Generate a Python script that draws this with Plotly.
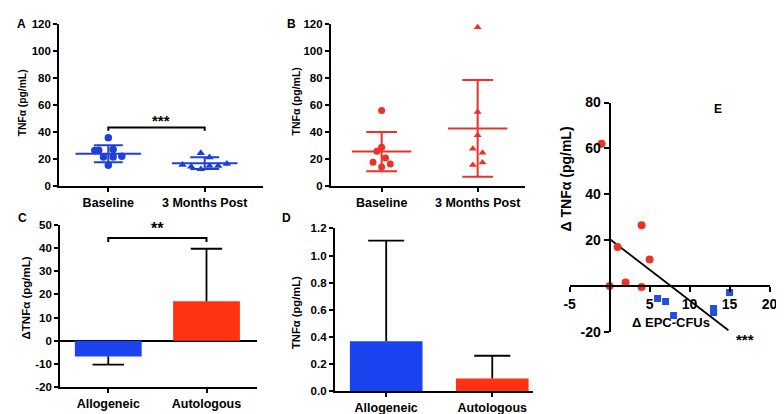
import plotly.graph_objects as go

# --- data ---
cats = ["Baseline", "3 Months Post"]
bar_cats = ["Allogeneic", "Autologous"]

# panel A (allogeneic, blue)
a_base = [35.7, 26.3, 26.5, 27.0, 21.5, 21.5, 22.0, 15.5]
a_post = [24.4, 21.3, 15.8, 14.4, 12.5, 14.9, 14.9, 16.5]
a_mean = [24.0, 17.0]
a_sd = [6.3, 4.4]

# panel B (autologous, red)
b_base = [55.8, 28.5, 25.6, 20.6, 17.4, 16.1, 14.0]
b_post = [117.4, 54.6, 37.5, 27.5, 24.5, 15.4, 17.3]
b_mean = [25.4, 42.5]
b_sd = [14.5, 35.8]

# panel C: change in TNFa
c_mean = [-6.8, 17.0]
c_err = [3.5, 22.7]

# panel D
d_mean = [0.367, 0.092]
d_err = [0.743, 0.168]

# panel E: correlation
e_red_x = [-1, 4, 1, 5, 2, 0, 4]
e_red_y = [62, 26.5, 17, 11.5, 1.5, 0, -0.5]
e_blue_x = [6, 7, 8, 13, 13, 15]
e_blue_y = [-5.5, -6.8, -12.9, -9.8, -11.6, -2.9]
fit_x = [0, 14.85]
fit_y = [20.5, -19.3]

c_ticks = [-20, -10, 0, 10, 20, 30, 40, 50]
e_xticks = [-5, 5, 10, 15, 20]
e_yticks = [-20, 20, 40, 60, 80]

# jitter used for the scatter dot plots (layout only)
a_base_jit = [0, -0.14, -0.10, 0.05, -0.05, 0.05, 0.14, 0]
a_post_jit = [-0.04, 0.05, -0.23, -0.14, -0.04, 0.05, 0.14, 0.23]
b_base_jit = [0, 0, -0.05, 0.04, -0.09, 0.09, 0]
b_post_jit = [0, 0, 0, -0.05, 0.05, -0.05, 0.05]

BLUE = "#1e3fd8"
RED = "#e8322a"
BAR_BLUE = "#1a44f0"
BAR_RED = "#ff3311"
FONT = "Arial"


def mean_sd_path(means, sds, half_mean, half_cap):
    xs, ys = [], []
    for i, (m, s) in enumerate(zip(means, sds)):
        xs += [i - half_mean, i + half_mean, None]
        ys += [m, m, None]
        xs += [i, i, None]
        ys += [m - s, m + s, None]
        for v in (m - s, m + s):
            xs += [i - half_cap, i + half_cap, None]
            ys += [v, v, None]
    return xs, ys


def bar_err_path(means, errs, half_cap):
    xs, ys = [], []
    for i, (m, e) in enumerate(zip(means, errs)):
        end = m + e if m >= 0 else m - e
        xs += [i, i, None, i - half_cap, i + half_cap, None]
        ys += [m, end, None, end, end, None]
    return xs, ys


fig = go.Figure()

# A
fig.add_trace(go.Scatter(x=[j for j in a_base_jit], y=a_base, mode="markers",
                         marker=dict(symbol="circle", size=7.5, color=BLUE),
                         xaxis="x", yaxis="y"))
fig.add_trace(go.Scatter(x=[1 + j for j in a_post_jit], y=a_post, mode="markers",
                         marker=dict(symbol="triangle-up", size=7.5, color=BLUE),
                         xaxis="x", yaxis="y"))
xs, ys = mean_sd_path(a_mean, a_sd, 0.34, 0.15)
fig.add_trace(go.Scatter(x=xs, y=ys, mode="lines", line=dict(color=BLUE, width=2),
                         xaxis="x", yaxis="y"))

# B
fig.add_trace(go.Scatter(x=[j for j in b_base_jit], y=b_base, mode="markers",
                         marker=dict(symbol="circle", size=7, color=RED),
                         xaxis="x2", yaxis="y2"))
fig.add_trace(go.Scatter(x=[1 + j for j in b_post_jit], y=b_post, mode="markers",
                         marker=dict(symbol="triangle-up", size=7, color=RED),
                         xaxis="x2", yaxis="y2"))
xs, ys = mean_sd_path(b_mean, b_sd, 0.31, 0.16)
fig.add_trace(go.Scatter(x=xs, y=ys, mode="lines", line=dict(color=RED, width=2),
                         xaxis="x2", yaxis="y2"))

# C
xs, ys = bar_err_path(c_mean, c_err, 0.16)
fig.add_trace(go.Scatter(x=xs, y=ys, mode="lines", line=dict(color="black", width=1.8),
                         xaxis="x3", yaxis="y3"))
fig.add_trace(go.Bar(x=[0, 1], y=c_mean, width=0.68, marker=dict(color=[BAR_BLUE, BAR_RED], line=dict(width=0)),
                     xaxis="x3", yaxis="y3"))

# D
xs, ys = bar_err_path(d_mean, d_err, 0.17)
fig.add_trace(go.Scatter(x=xs, y=ys, mode="lines", line=dict(color="black", width=1.8),
                         xaxis="x4", yaxis="y4"))
fig.add_trace(go.Bar(x=[0, 1], y=d_mean, width=0.685, marker=dict(color=[BAR_BLUE, BAR_RED], line=dict(width=0)),
                     xaxis="x4", yaxis="y4"))

# E
fig.add_trace(go.Scatter(x=fit_x, y=fit_y, mode="lines", line=dict(color="black", width=1.8),
                         xaxis="x5", yaxis="y5"))
fig.add_trace(go.Scatter(x=e_red_x, y=e_red_y, mode="markers",
                         marker=dict(symbol="circle", size=8, color=RED),
                         xaxis="x5", yaxis="y5"))
fig.add_trace(go.Scatter(x=e_blue_x, y=e_blue_y, mode="markers",
                         marker=dict(symbol="square", size=7, color="#2050e0"),
                         xaxis="x5", yaxis="y5"))

tickfont_y = dict(family=FONT, size=11.5, color="black", weight="bold")
tickfont_x = dict(family=FONT, size=12.5, color="black", weight="bold")
tickfont_e = dict(family=FONT, size=14, color="black", weight="bold")


def cat_x(domain, rng, labels, anchor):
    return dict(domain=domain, range=rng, anchor=anchor, tickvals=[0, 1], ticktext=labels,
                showline=True, linecolor="black", linewidth=2, ticks="outside",
                ticklen=4, tickwidth=1.5, tickcolor="black", showgrid=False,
                zeroline=False, tickfont=tickfont_x, fixedrange=True)


def val_y(domain, rng, dtick, anchor, fmt=None, zl=False, vals=None):
    d = dict(domain=domain, range=rng, anchor=anchor, dtick=dtick, tick0=0,
             showline=True, linecolor="black", linewidth=2, ticks="outside",
             ticklen=4, tickwidth=1.5, tickcolor="black", showgrid=False,
             zeroline=zl, zerolinecolor="black", zerolinewidth=2, tickfont=tickfont_y)
    if fmt:
        d["tickformat"] = fmt
    if vals:
        d["tickvals"] = vals
        d["ticktext"] = [str(v) for v in vals]
    return d


annots = []


def txt(x, y, s, size, angle=0, bold=True, xref="paper", yref="paper"):
    annots.append(dict(x=x, y=y, xref=xref, yref=yref, text=s, showarrow=False,
                       textangle=angle, xanchor="center", yanchor="middle",
                       font=dict(family=FONT, size=size, color="black",
                                 weight="bold" if bold else "normal")))


W, H = 784, 414
px = lambda v: v / W
py = lambda v: 1 - v / H

# panel letters
txt(px(8), py(8), "A", 12)
txt(px(283), py(8), "B", 12)
txt(px(9), py(210), "C", 12)
txt(px(277), py(210), "D", 12)
txt(px(717), py(97), "E", 12)

# y axis titles
txt(px(9), py(90), "TNFα (pg/mL)", 10.3, angle=-90)
txt(px(287), py(89), "TNFα (pg/mL)", 10.5, angle=-90)
txt(px(12), py(293), "ΔTNFα (pg/mL)", 11.5, angle=-90)
txt(px(287), py(308), "TNFα (pg/mL)", 11.2, angle=-90)
txt(px(563), py(169), "Δ TNFα (pg/mL)", 14, angle=-90)
txt(px(669), py(319), "Δ EPC-CFUs", 13)

# significance stars
txt(0.55, 48.5, "***", 15, xref="x", yref="y")
txt(0.5, 48.5, "**", 16, xref="x3", yref="y3")
txt(px(744), py(336), "***", 15)

shapes = [
    dict(type="path", xref="x", yref="y", path="M 0,41 L 0,43.3 L 1,43.3 L 1,41",
         line=dict(color="black", width=2)),
    dict(type="path", xref="x3", yref="y3", path="M 0,42.6 L 0,44.3 L 1,44.3 L 1,42.6",
         line=dict(color="black", width=2)),
]

fig.update_layout(
    width=W, height=H, margin=dict(l=0, r=0, t=0, b=0),
    paper_bgcolor="white", plot_bgcolor="white", showlegend=False,
    xaxis=cat_x([px(46), px(254)], [-0.51, 1.61], cats, "y"),
    yaxis=val_y([py(177), py(8)], [0, 120], 20, "x"),
    xaxis2=cat_x([px(322.7), px(520)], [-0.528, 1.49], cats, "y2"),
    yaxis2=val_y([py(176.7), py(8)], [0, 120], 20, "x2"),
    xaxis3=cat_x([px(47), px(247)], [-0.49, 1.51], bar_cats, "y3"),
    yaxis3=val_y([py(386), py(217.3)], [-20, 50], 10, "x3", zl=True, vals=c_ticks),
    xaxis4=cat_x([px(326.7), px(528)], [-0.484, 1.38], bar_cats, "y4"),
    yaxis4=val_y([py(390), py(221)], [0, 1.2], 0.2, "x4", fmt=".1f"),
    xaxis5=dict(domain=[px(565.7), px(769.3)], range=[-5, 20], anchor="free",
                position=py(280.8), tickvals=e_xticks, ticktext=[str(v) for v in e_xticks],
                showline=True, linecolor="black", linewidth=2, ticks="outside",
                ticklen=5, tickwidth=1.5, tickcolor="black", showgrid=False,
                zeroline=False, tickfont=tickfont_e),
    yaxis5=dict(domain=[py(328.5), py(90)], range=[-20, 80], anchor="free",
                position=px(606.4), tickvals=e_yticks, ticktext=[str(v) for v in e_yticks],
                showline=True, linecolor="black", linewidth=2, ticks="outside",
                ticklen=5, tickwidth=1.5, tickcolor="black", showgrid=False,
                zeroline=False, tickfont=tickfont_e),
    annotations=annots,
    shapes=shapes,
)

fig.write_html("out.html")
